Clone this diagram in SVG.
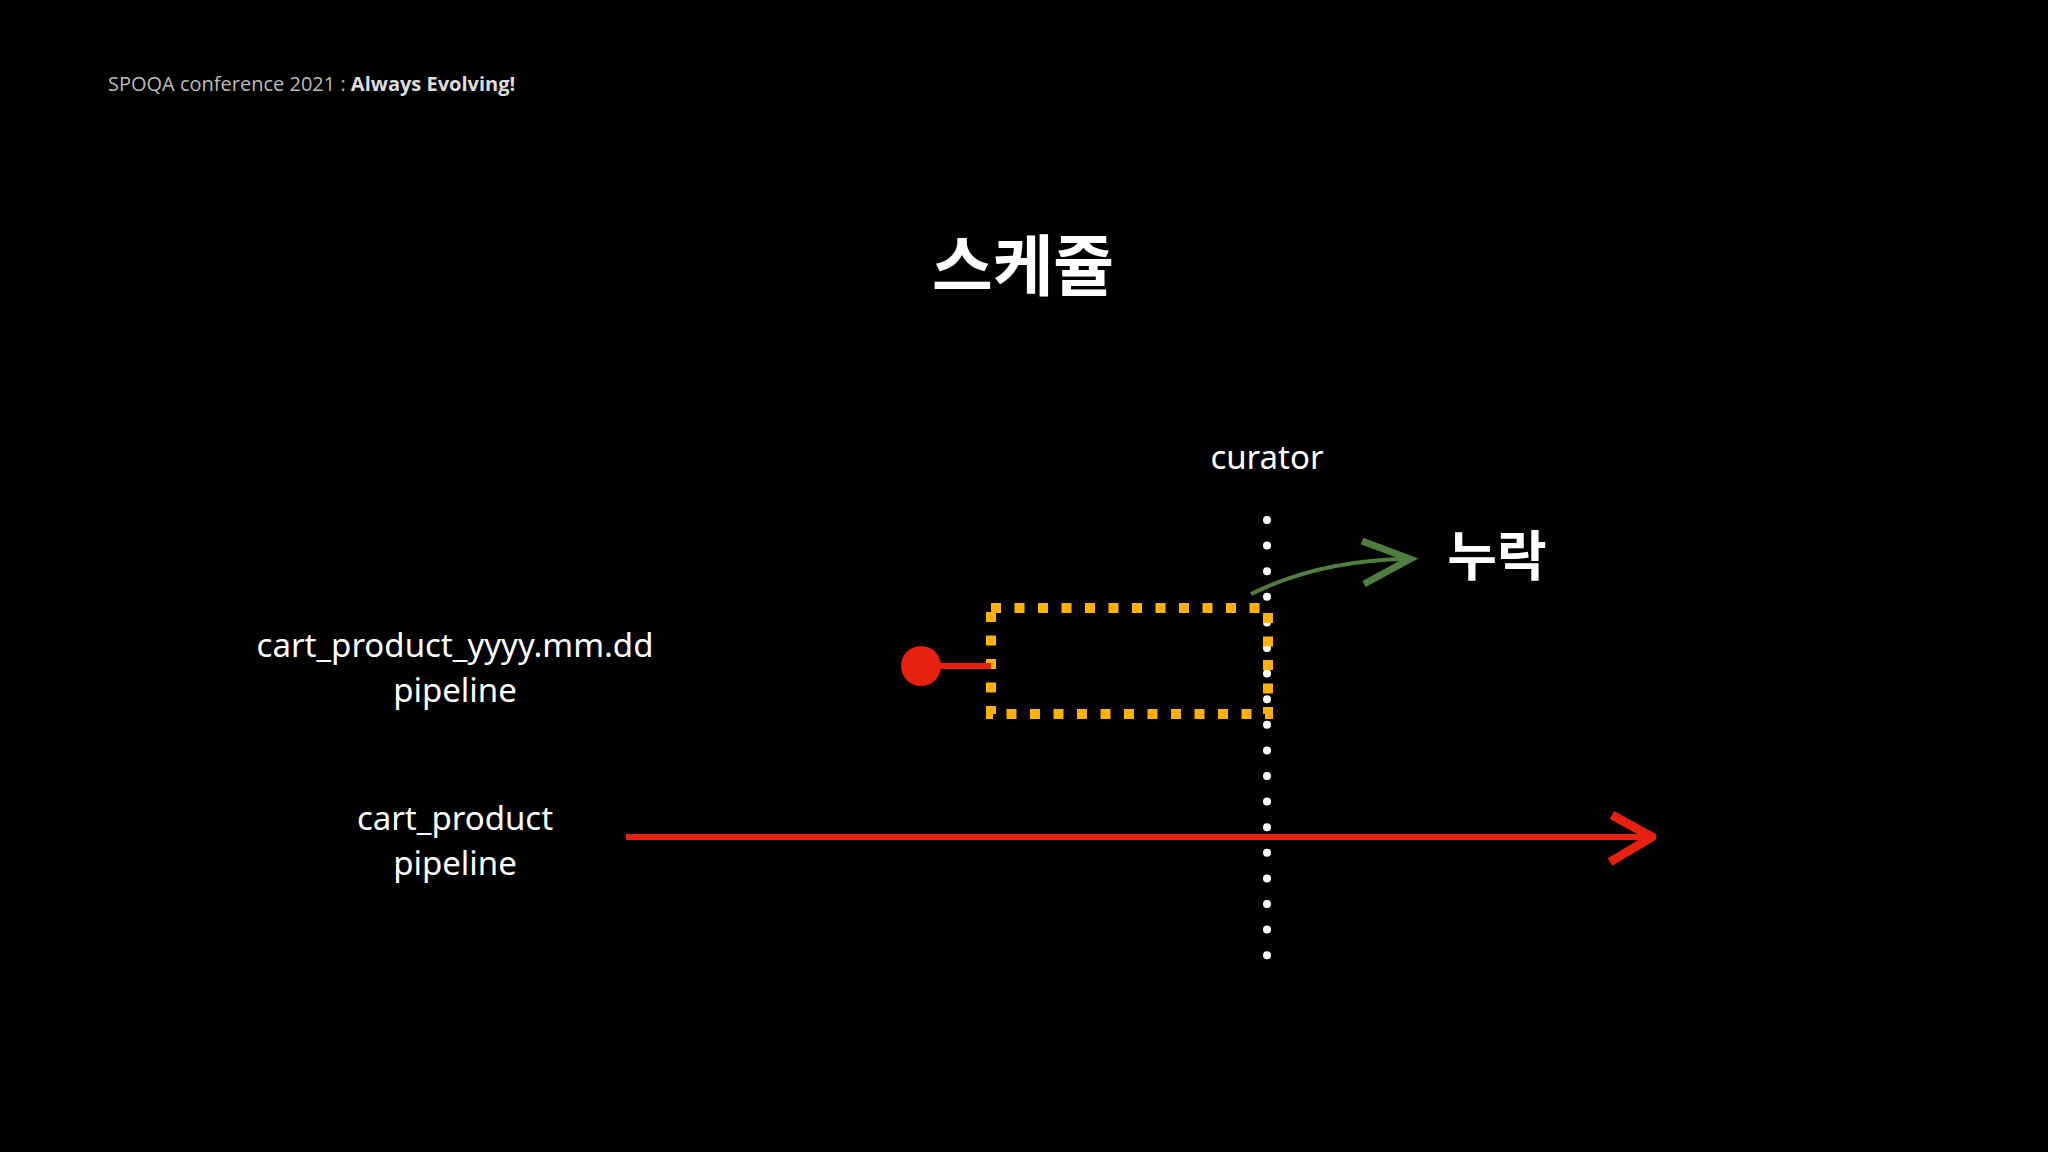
<svg xmlns="http://www.w3.org/2000/svg" width="2048" height="1152" viewBox="0 0 2048 1152">
<style>
.lbl{font-family:"Noto Sans","Noto Sans CJK KR",sans-serif;fill:#fff;font-size:33px;text-anchor:middle}
.ko{font-family:"Noto Sans CJK KR","Noto Sans",sans-serif;fill:#fff;font-weight:700;text-anchor:middle}
.red{stroke:#e8200f;stroke-width:6;fill:none}
</style>
<rect width="2048" height="1152" fill="#000"/>
<text x="108" y="91" font-family="'Open Sans','Noto Sans',sans-serif" font-size="20" fill="#bbb">SPOQA conference 2021 : <tspan font-weight="700" fill="#ddd">Always Evolving!</tspan></text>
<text class="ko" x="1023" y="290" font-size="66">스케쥴</text>
<g id="curator">
<text class="lbl" x="1267" y="469" font-size="35">curator</text>
<line x1="1267" y1="520" x2="1267" y2="960" stroke="#fff" stroke-width="8" stroke-linecap="round" stroke-dasharray="0 25.6"/>
</g>
<g id="box">
<rect x="991" y="608" width="277" height="106" fill="none" stroke="#ffb000" stroke-width="10" stroke-dasharray="10 13.5"/>
</g>
<g id="label1">
<text class="lbl" x="455" y="657">cart_product_yyyy.mm.dd</text>
<text class="lbl" x="455" y="702">pipeline</text>
</g>
<g id="label2">
<text class="lbl" x="455" y="830">cart_product</text>
<text class="lbl" x="455" y="875">pipeline</text>
</g>
<g id="missing"><text class="ko" x="1497" y="576" font-size="54">누락</text></g>
<g id="connectors">
<circle cx="921" cy="666" r="20" fill="#e8200f"/>
<line class="red" x1="921" y1="666" x2="991" y2="666"/>
<line class="red" x1="626" y1="837" x2="1648" y2="837"/>
<path d="M1612 815 L1652 837 L1610 862" stroke="#e8200f" stroke-width="9" fill="none" stroke-linejoin="round"/>
<path d="M1251 594 Q1320 560 1408 559" stroke="#4f7f3f" stroke-width="4" fill="none"/>
<path d="M1362 541 L1410 559 L1364 584" stroke="#4f7f3f" stroke-width="7" fill="none"/>
</g>
</svg>
